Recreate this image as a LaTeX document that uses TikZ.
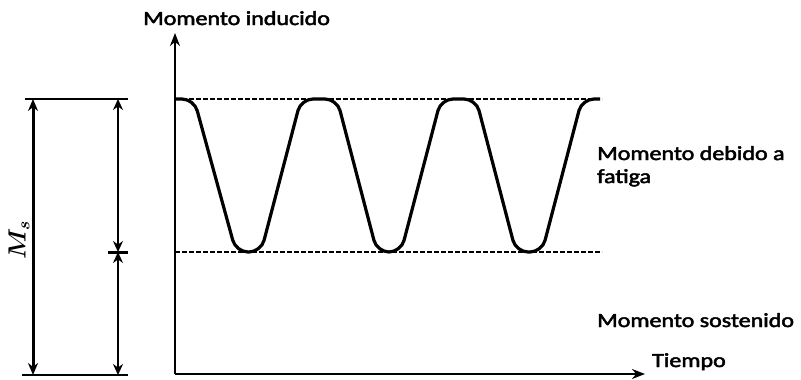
\documentclass[tikz,border=0pt]{standalone}
\usepackage{fontspec}
\newfontfamily\labfont{Carlito}
\usetikzlibrary{arrows.meta}
\newcommand{\heavytext}[1]{\special{pdf:literal direct 2 Tr 0.45 w}#1\special{pdf:literal direct 0 Tr}}
\newcommand{\labtext}[1]{\scalebox{1.2}[1]{\heavytext{#1}}}
\begin{document}
\begin{tikzpicture}[x=1pt,y=-1pt,
  lab/.style={font=\labfont\fontsize{20}{23}\selectfont, inner sep=0pt, align=left},
  axisline/.style={line width=2.6pt, -{Stealth[length=13pt,width=10pt]}},
  guide/.style={line width=1.9pt, dash pattern=on 5pt off 2pt},
  wave/.style={line width=3.2pt, rounded corners=12pt, line join=round},
  limitline/.style={line width=2.4pt},
  dimbig/.style={line width=3pt, {Stealth[length=12pt,width=10pt]}-{Stealth[length=12pt,width=10pt]}},
  dimsmall/.style={line width=1.9pt, {Stealth[length=11pt,width=10pt]}-{Stealth[length=11pt,width=10pt]}}
]
\useasboundingbox (0,0) rectangle (801,380);

% axes
\coordinate (O) at (175,374);
\coordinate (ytip) at (175,33);
\coordinate (xtip) at (645,374);
\draw[axisline] (O) -- (ytip);
\draw[axisline] (O) -- (xtip);

% guide lines
\coordinate (topL) at (175,99);
\coordinate (topR) at (602,99);
\coordinate (botL) at (175,252);
\coordinate (botR) at (602,252);
\draw[guide] (topL) -- (topR);
\draw[guide] (botL) -- (botR);

% fatigue wave
\draw[wave] (176,99) -- (194,99) -- (236,252) -- (261,252) -- (301,99) -- (337,99)
  -- (377,252) -- (401,252) -- (441,99) -- (476,99) -- (516,252) -- (542,252)
  -- (582,99) -- (600,99);

% left dimension lines
\coordinate (lt1) at (25,99);  \coordinate (lt2) at (128,99);
\coordinate (lb1) at (22,375); \coordinate (lb2) at (128,375);
\draw[limitline] (lt1) -- (lt2);
\draw[limitline] (lb1) -- (lb2);
\coordinate (MsTop) at (33,99);
\coordinate (MsBot) at (33,375);
\draw[dimbig] (MsTop) -- (MsBot);
\coordinate (dTop) at (118,99);
\coordinate (dMid) at (118,252);
\coordinate (dBot) at (118,375);
\draw[dimsmall] (dTop) -- (dMid);
\draw[dimsmall] (dMid) -- (dBot);
\coordinate (tk1) at (108,252); \coordinate (tk2) at (128,252);
\draw[line width=3pt] (tk1) -- (tk2);

% labels
\node[font=\fontsize{25}{27}\selectfont\boldmath, rotate=90, inner sep=0pt] (Ms) at (19,240) {$M_s$};
\node[lab, anchor=base west] (yl) at (143,25) {\labtext{Momento inducido}};
\node[lab, anchor=base west] (fat) at (597,183) {\labtext{Momento debido a}\\\labtext{fatiga}};
\node[lab, anchor=base west] (sos) at (597,327) {\labtext{Momento sostenido}};
\node[lab, anchor=base west] (xl) at (652,367) {\labtext{Tiempo}};
\end{tikzpicture}
\end{document}
